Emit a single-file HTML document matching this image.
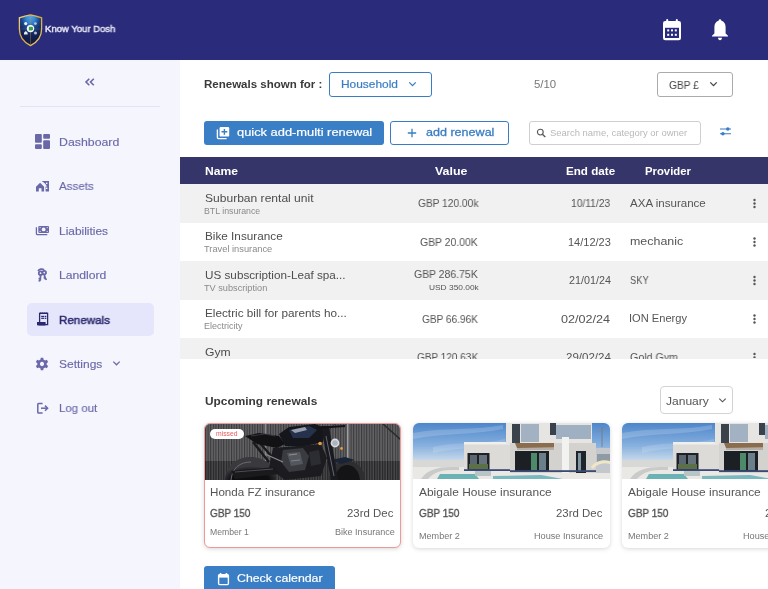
<!DOCTYPE html>
<html lang="en">
<head>
<meta charset="utf-8">
<title>Know Your Dosh - Renewals</title>
<style>
html,body{margin:0;padding:0;}
body{width:768px;height:589px;overflow:hidden;position:relative;background:#fff;font-family:"Liberation Sans",Arial,sans-serif;}
.t{position:absolute;white-space:nowrap;line-height:1;transform-origin:0 0;will-change:transform;}
.abs{position:absolute;}
#hdr{left:0;top:0;width:768px;height:60px;background:#2a2b7a;}
#side{left:0;top:60px;width:180px;height:529px;background:#f5f5fe;}
#sdiv{left:20px;top:106px;width:140px;height:1px;background:#e3e3f6;}
#active{left:26.5px;top:303px;width:127.5px;height:32.5px;background:#e5e5fb;border-radius:5px;}
.box{position:absolute;box-sizing:border-box;border-radius:3px;background:#fff;}
#thead{left:180px;top:157px;width:588px;height:27px;background:#36356a;}
.row{position:absolute;left:180px;width:588px;height:38.5px;}
.odd{background:#f1f1f1;}
.card{position:absolute;top:422.5px;width:197px;height:125.5px;box-sizing:border-box;border-radius:6px;background:#fff;overflow:hidden;box-shadow:0 1px 4px rgba(0,0,0,0.16);}
.btn{position:absolute;background:#3a7ec6;border-radius:3px;}
</style>
</head>
<body>
<div id="hdr" class="abs"></div>
<!-- logo shield -->
<svg class="abs" style="left:17px;top:13px" width="27" height="34" viewBox="0 0 27 34">
  <defs>
    <radialGradient id="shg" cx="0.5" cy="0.05" r="0.75" fx="0.5" fy="0.05">
      <stop offset="0" stop-color="#52a8ee"/>
      <stop offset="0.3" stop-color="#3482cc"/>
      <stop offset="0.55" stop-color="#1d4488"/>
      <stop offset="0.8" stop-color="#15255a"/>
      <stop offset="1" stop-color="#111c48"/>
    </radialGradient>
    <linearGradient id="gold" x1="0" y1="0" x2="1" y2="1">
      <stop offset="0" stop-color="#f3d57a"/>
      <stop offset="0.5" stop-color="#d7a93e"/>
      <stop offset="1" stop-color="#f0cf6e"/>
    </linearGradient>
  </defs>
  <path d="M13.5 1.9 L19 3.2 L24.6 4.8 L24.6 16 C24.6 24 19.8 29.5 13.5 32.6 C7.2 29.5 2.4 24 2.4 16 L2.4 4.8 L8 3.2 Z" fill="url(#shg)" stroke="url(#gold)" stroke-width="1.3"/>
  <line x1="13.5" y1="2.5" x2="13.5" y2="31.5" stroke="#b58a3a" stroke-width="0.5" opacity="0.8"/>
  <line x1="3" y1="16" x2="24" y2="16" stroke="#6b8fc0" stroke-width="0.4" opacity="0.6"/>
  <circle cx="8.7" cy="10.6" r="1.6" fill="#fff" opacity="0.9"/>
  <circle cx="18.4" cy="10.6" r="1.4" fill="#dfe6f3" opacity="0.75"/>
  <path d="M7 19.8 L8.8 18 L10.6 19.8 L10.6 21.4 L7 21.4 Z" fill="#fff" opacity="0.9"/>
  <circle cx="18.5" cy="20" r="1.5" fill="#dfe6f3" opacity="0.8"/>
  <circle cx="13.5" cy="15.6" r="3.7" fill="#fff"/>
  <path d="M11.8 13.8 L14.8 13.8 C16 13.8 16.3 15 16 16.2 L15 17.6 L11.8 17.6 Z" fill="#3aa34a"/>
</svg>
<!-- header icons -->
<svg class="abs" style="left:662px;top:18px" width="20" height="23" viewBox="0 0 20 23">
  <rect x="4.2" y="1" width="2" height="3.5" rx="1" fill="#fff"/>
  <rect x="13.8" y="1" width="2" height="3.5" rx="1" fill="#fff"/>
  <rect x="1" y="3" width="18" height="19.2" rx="2.2" fill="#fff"/>
  <rect x="3" y="9.8" width="14" height="10.2" fill="#2a2b7a"/>
  <g fill="#fff">
    <rect x="5.2" y="11.4" width="2" height="2"/><rect x="9" y="11.4" width="2" height="2"/><rect x="12.8" y="11.4" width="2" height="2"/>
    <rect x="5.2" y="15.8" width="2" height="2"/><rect x="9" y="15.8" width="2" height="2"/><rect x="12.8" y="15.8" width="2" height="2"/>
  </g>
</svg>
<svg class="abs" style="left:711px;top:18px" width="18" height="23" viewBox="0 0 18 23">
  <path d="M9 1.2 C9.8 1.2 10.2 1.8 10.2 2.6 C13.2 3.4 14.6 6 14.6 9 L14.6 15.5 L17 17.8 L17 18.6 L1 18.6 L1 17.8 L3.4 15.5 L3.4 9 C3.4 6 4.8 3.4 7.8 2.6 C7.8 1.8 8.2 1.2 9 1.2 Z" fill="#fff"/>
  <path d="M7 19.8 L11 19.8 C11 21.2 10.1 22.2 9 22.2 C7.9 22.2 7 21.2 7 19.8 Z" fill="#fff"/>
</svg>

<div id="side" class="abs"></div>
<!-- collapse chevrons -->
<svg class="abs" style="left:84px;top:77px" width="12" height="10" viewBox="0 0 12 10">
  <path d="M5.3 1.7 L2 5 L5.3 8.3 M9.8 1.7 L6.5 5 L9.8 8.3" fill="none" stroke="#6b68a8" stroke-width="1.6"/>
</svg>
<div id="sdiv" class="abs"></div>
<div id="active" class="abs"></div>
<!-- sidebar icons -->
<svg class="abs" style="left:35px;top:134px" width="15" height="15" viewBox="0 0 15 15" fill="#6b68a8">
  <rect x="0" y="0" width="6.8" height="8.8" rx="1"/>
  <rect x="0" y="10.2" width="6.8" height="4.8" rx="1"/>
  <rect x="8.2" y="0" width="6.8" height="4.8" rx="1"/>
  <rect x="8.2" y="6.2" width="6.8" height="8.8" rx="1"/>
</svg>
<svg class="abs" style="left:35px;top:180px" width="15" height="13" viewBox="0 0 15 13" fill="#6b68a8">
  <path d="M6.7 1 L14 1 L14 11.4 L10.6 11.4 L10.6 6.6 L12.1 6.6 L10 3.6 Z"/>
  <rect x="11" y="2.6" width="1.4" height="1.4" fill="#f5f5fe"/><rect x="11" y="7.6" width="1.4" height="1.4" fill="#f5f5fe"/>
  <path d="M1 6.8 L5.1 2.8 L9.1 6.8 L9.1 11.6 L6.5 11.6 L6.5 8.2 L3.8 8.2 L3.8 11.6 L1 11.6 Z"/>
</svg>
<svg class="abs" style="left:35px;top:224px" width="15" height="13" viewBox="0 0 15 13">
  <rect x="3.3" y="2" width="10.7" height="6.9" rx="1" fill="#6b68a8"/>
  <circle cx="8.65" cy="5.45" r="1.9" fill="#f5f5fe"/>
  <circle cx="5.1" cy="3.6" r="0.6" fill="#f5f5fe"/><circle cx="12.2" cy="3.6" r="0.6" fill="#f5f5fe"/>
  <circle cx="5.1" cy="7.3" r="0.6" fill="#f5f5fe"/><circle cx="12.2" cy="7.3" r="0.6" fill="#f5f5fe"/>
  <path d="M1.4 3.3 L1.4 9.8 Q1.4 10.6 2.2 10.6 L12.3 10.6" fill="none" stroke="#6b68a8" stroke-width="1.3"/>
</svg>
<svg class="abs" style="left:36px;top:267px" width="12" height="16" viewBox="0 0 12 16" fill="none" stroke="#6b68a8" stroke-width="1.8">
  <path d="M2.2 4.2 C2.6 2 6.5 1.4 8 3"/>
  <circle cx="4.6" cy="6.2" r="1.8"/>
  <path d="M4.6 8 L4.2 13.8 M4.3 11.4 L2.6 11.8 M4.2 13.6 L2.6 13.9"/>
  <circle cx="8.2" cy="5.6" r="1.8"/>
  <path d="M8.2 7.4 L9.6 12.6 M9 10.6 L7.6 11 M9.5 12.4 L10.8 12"/>
</svg>
<svg class="abs" style="left:36px;top:312px" width="13" height="14" viewBox="0 0 13 14">
  <path d="M3.6 1.3 L11.6 1.3 L11.6 12.6 L3.6 12.6 Z" fill="none" stroke="#2a2870" stroke-width="1.3"/>
  <path d="M3.6 1 L4.6 0.6 L5.6 1 L6.6 0.6 L7.6 1 L8.6 0.6 L9.6 1 L10.6 0.6 L11.6 1" fill="none" stroke="#2a2870" stroke-width="0.8"/>
  <rect x="5.2" y="3.8" width="3.2" height="1.2" fill="#2a2870"/><rect x="9" y="3.8" width="1.3" height="1.2" fill="#2a2870"/>
  <rect x="5.2" y="5.7" width="3.2" height="1.2" fill="#2a2870"/><rect x="9" y="5.7" width="1.3" height="1.2" fill="#2a2870"/>
  <path d="M1 10 L9.6 10 L9.6 12.8 Q9.6 13.4 9 13.4 L2 13.4 Q1 13.4 1 12.4 Z" fill="#2a2870"/>
</svg>
<svg class="abs" style="left:34.4px;top:355.7px" width="16" height="16" viewBox="0 0 24 24" fill="#6b68a8">
  <path fill-rule="evenodd" d="M13.9 1.5 L14.4 4.3 C15.2 4.6 15.9 5 16.6 5.5 L19.3 4.5 L21.2 7.8 L19 9.6 C19.1 10.4 19.1 11.2 19 12 L21.2 13.8 L19.3 17.1 L16.6 16.1 C15.9 16.6 15.2 17 14.4 17.3 L13.9 20.1 L10.1 20.1 L9.6 17.3 C8.8 17 8.1 16.6 7.4 16.1 L4.7 17.1 L2.8 13.8 L5 12 C4.9 11.2 4.9 10.4 5 9.6 L2.8 7.8 L4.7 4.5 L7.4 5.5 C8.1 5 8.8 4.6 9.6 4.3 L10.1 1.5 Z M12 7.6 A3.2 3.2 0 1 0 12.001 7.6 Z" transform="translate(0,1.2)"/>
</svg>
<svg class="abs" style="left:36px;top:402px" width="14" height="13" viewBox="0 0 14 13" fill="none" stroke="#6b68a8" stroke-width="1.5">
  <path d="M6.6 1.5 L2.6 1.5 Q1.8 1.5 1.8 2.3 L1.8 10.2 Q1.8 11 2.6 11 L6.6 11"/>
  <path d="M5 6.2 L11 6.2"/>
  <path d="M9 3.6 L11.6 6.2 L9 8.8" stroke-linejoin="miter"/>
</svg>
<!-- sidebar settings chevron -->
<svg class="abs" style="left:112px;top:360px" width="9" height="7" viewBox="0 0 9 7">
  <path d="M1.3 1.6 L4.5 4.8 L7.7 1.6" fill="none" stroke="#6b68a8" stroke-width="1.3"/>
</svg>

<!-- top controls -->
<div class="box" style="left:328.5px;top:72px;width:103px;height:24.5px;border:1.2px solid #3a7dc4;"></div>
<svg class="abs" style="left:408px;top:81px" width="9" height="7" viewBox="0 0 9 7">
  <path d="M1.3 1.4 L4.5 4.6 L7.7 1.4" fill="none" stroke="#3a7dc4" stroke-width="1.3"/>
</svg>
<div class="box" style="left:656.5px;top:72px;width:76px;height:24.6px;border:1.1px solid #ababab;"></div>
<svg class="abs" style="left:709px;top:81px" width="9" height="7" viewBox="0 0 9 7">
  <path d="M1.3 1.4 L4.5 4.6 L7.7 1.4" fill="none" stroke="#444" stroke-width="1.3"/>
</svg>
<div class="btn" style="left:204px;top:120.8px;width:180px;height:23.8px;"></div>
<svg class="abs" style="left:216px;top:126px" width="14" height="14" viewBox="0 0 14 14">
  <path d="M1.4 3.4 L1.4 11.6 Q1.4 12.6 2.4 12.6 L10.6 12.6" fill="none" stroke="#fff" stroke-width="1.4"/>
  <rect x="3.6" y="1" width="9.6" height="9.6" rx="1.2" fill="#fff"/>
  <path d="M8.4 2.9 L8.4 8.7 M5.5 5.8 L11.3 5.8" stroke="#3a7ec6" stroke-width="1.4"/>
</svg>
<div class="box" style="left:390px;top:120.8px;width:119px;height:24px;border:1.2px solid #3a7dc4;"></div>
<svg class="abs" style="left:407px;top:128px" width="10" height="10" viewBox="0 0 10 10">
  <path d="M5 0.8 L5 9.2 M0.8 5 L9.2 5" stroke="#3a7dc4" stroke-width="1.3"/>
</svg>
<div class="box" style="left:529px;top:121px;width:171.5px;height:23.5px;border:1px solid #cfcfcf;"></div>
<svg class="abs" style="left:535.5px;top:128px" width="10.5" height="10" viewBox="0 0 10.5 10">
  <circle cx="4.3" cy="4.1" r="2.9" fill="none" stroke="#5a5a5a" stroke-width="1.15"/>
  <path d="M6.4 6.2 L9.3 9.1" stroke="#5a5a5a" stroke-width="1.4"/>
</svg>
<svg class="abs" style="left:719px;top:126px" width="13" height="10" viewBox="0 0 13 10">
  <path d="M1 3 L12 3 M1 7.7 L12 7.7" stroke="#3a7dc4" stroke-width="1.05"/>
  <circle cx="8.8" cy="3" r="1.75" fill="#3a7dc4"/><circle cx="3.9" cy="7.7" r="1.75" fill="#3a7dc4"/>
</svg>

<!-- table -->
<div id="thead" class="abs"></div>
<div style="position:absolute;left:180px;top:184px;width:588px;height:174.5px;overflow:hidden;">
  <div class="row odd" style="left:0;top:0"></div>
  <div class="row" style="left:0;top:38.5px"></div>
  <div class="row odd" style="left:0;top:77px"></div>
  <div class="row" style="left:0;top:115.5px"></div>
  <div class="row odd" style="left:0;top:154px"></div>
</div>
<!-- kebabs -->
<svg class="abs" style="left:752px;top:196px" width="5" height="162" viewBox="0 0 5 162" fill="#555">
  <circle cx="2.5" cy="4" r="1.2"/><circle cx="2.5" cy="7.5" r="1.2"/><circle cx="2.5" cy="11" r="1.2"/>
  <circle cx="2.5" cy="42.5" r="1.2"/><circle cx="2.5" cy="46" r="1.2"/><circle cx="2.5" cy="49.5" r="1.2"/>
  <circle cx="2.5" cy="81" r="1.2"/><circle cx="2.5" cy="84.5" r="1.2"/><circle cx="2.5" cy="88" r="1.2"/>
  <circle cx="2.5" cy="119.5" r="1.2"/><circle cx="2.5" cy="123" r="1.2"/><circle cx="2.5" cy="126.5" r="1.2"/>
  <circle cx="2.5" cy="158" r="1.2"/><circle cx="2.5" cy="161.5" r="1.2"/>
</svg>
<!-- clipped row text container: handled by clip wrapper below -->

<!-- upcoming -->
<div class="box" style="left:660px;top:386px;width:73px;height:27.5px;border:1px solid #d3d3d3;border-radius:4px;"></div>
<svg class="abs" style="left:717.5px;top:396.5px" width="9" height="7" viewBox="0 0 9 7">
  <path d="M1.3 1.6 L4.5 4.8 L7.7 1.6" fill="none" stroke="#555" stroke-width="1.15"/>
</svg>

<!-- cards -->
<div class="card" style="left:204px;border:1px solid #f09898;">
  <svg class="abs" style="left:0;top:0" width="196" height="56" viewBox="0 0 196 56">
    <defs>
      <pattern id="stripes" width="2.6" height="10" patternUnits="userSpaceOnUse">
        <rect width="2.6" height="10" fill="#646466"/><rect width="1.1" height="10" fill="#3a3a3c"/>
      </pattern>
      <pattern id="stripes2" width="2.6" height="10" patternUnits="userSpaceOnUse">
        <rect width="2.6" height="10" fill="#4c4c4e"/><rect width="1.3" height="10" fill="#252527"/>
      </pattern>
      <radialGradient id="tire" cx="0.5" cy="1" r="0.6">
        <stop offset="0.6" stop-color="#0e0e10"/><stop offset="0.85" stop-color="#2a2a2e"/><stop offset="1" stop-color="#3a3a3e"/>
      </radialGradient>
    </defs>
    <rect width="196" height="56" fill="url(#stripes)"/>
    <rect y="37" width="196" height="19" fill="url(#stripes2)"/>
    <rect x="142" y="0" width="1.6" height="37" fill="#a0a0a0"/>
    <rect x="60" y="0" width="1.2" height="37" fill="#8a8a8a"/>
    <path d="M178 0 L196 16" stroke="#2a2a2a" stroke-width="1.5"/>
    <path d="M130 0 L100 30" stroke="#333" stroke-width="0.8"/>
    <!-- rear wheel -->
    <path d="M20 56 C21 41 32 33 46 33 C60 33 70 42 71 56 Z" fill="url(#tire)"/>
    <path d="M26 56 C27 44 35 38 46 38" stroke="#6a6a70" stroke-width="1" fill="none"/>
    <!-- rear frame / shock -->
    <path d="M48 18 L64 38 M54 18 L68 34" stroke="#1a1a1c" stroke-width="2.4"/>
    <!-- seat -->
    <path d="M40 12 L54 9 L74 12 L80 20 L72 24 L52 20 Z" fill="#121214"/>
    <path d="M46 12 L60 10 L70 12" stroke="#3e4048" stroke-width="0.8" fill="none"/>
    <!-- tank -->
    <path d="M74 10 L84 3 L110 0 L120 4 L118 18 L100 22 L80 22 Z" fill="#14161c"/>
    <path d="M84 6 L104 2 L112 6 L104 14 L88 14 Z" fill="#26324c"/>
    <path d="M86 6 L100 3 L102 6 L90 9 Z" fill="#9aa0ae"/>
    <!-- engine -->
    <path d="M68 24 L116 20 L122 34 L116 52 L80 56 L64 44 Z" fill="#1c1c20"/>
    <path d="M78 26 L98 24 L104 32 L100 46 L84 48 L76 38 Z" fill="#3a3b40"/>
    <path d="M82 29 L95 28 L98 40 L86 42 Z" fill="#55575e"/><path d="M84 31 L92 30" stroke="#9a9ca4" stroke-width="0.8"/><path d="M86 37 L95 36" stroke="#8a8c94" stroke-width="0.8"/>
    <path d="M104 28 L114 26 L116 40 L106 42 Z" fill="#2c2d32"/>
    <path d="M60 30 L78 38" stroke="#8a8a90" stroke-width="1.1"/>
    <!-- exhaust -->
    <path d="M26 47 L70 43 L74 50 L30 55 Z" fill="#1a1a1d"/>
    <path d="M30 48 L68 45" stroke="#5a5a60" stroke-width="0.8"/>
    <!-- front wheel -->
    <path d="M124 56 C124 44 132 37 142 37 C153 37 160 46 160 56 Z" fill="#2e2e31"/>
    <path d="M130 56 C131 46 136 41 142 41 C149 41 154 47 155 56 Z" fill="#141416"/>
    <path d="M126 36 L140 33 L150 36 L136 40 Z" fill="#1a2436"/>
    <!-- fork -->
    <path d="M116 2 L124 2 L133 56 L126 56 Z" fill="#1a1a1e"/>
    <path d="M121 12 L129 52" stroke="#6a6e80" stroke-width="0.9"/>
    <path d="M112 4 L140 2" stroke="#141416" stroke-width="2"/>
    <circle cx="130" cy="19" r="4.4" fill="#d9dbe0"/>
    <circle cx="130" cy="19" r="2.8" fill="#aeb3bd"/>
    <circle cx="115" cy="19.5" r="1.7" fill="#e99c30"/>
    <circle cx="136.5" cy="24.5" r="1.4" fill="#e99c30"/>
  </svg>
  <div class="abs" style="left:5px;top:5.5px;width:34px;height:10.3px;background:#fff;border-radius:6px;"></div>
</div>
<div class="card" style="left:413px;">
  <svg class="abs" style="left:0;top:0" width="197" height="56" viewBox="0 0 197 56">
    <defs>
      <linearGradient id="sky" x1="0" y1="0" x2="0" y2="1">
        <stop offset="0" stop-color="#4e86cb"/>
        <stop offset="0.4" stop-color="#86b0de"/>
        <stop offset="0.65" stop-color="#c2d6ea"/>
        <stop offset="1" stop-color="#e8ecef"/>
      </linearGradient>
    </defs>
    <rect width="197" height="56" fill="url(#sky)"/>
    <path d="M0 10 C30 4 60 8 90 2 L90 6 C60 12 30 10 0 16 Z" fill="#ffffff" opacity="0.18"/>
    <path d="M20 24 C45 18 70 22 92 16 L92 20 C70 26 45 24 20 30 Z" fill="#ffffff" opacity="0.15"/>
    <!-- distant -->
    <rect x="0" y="37" width="55" height="8" fill="#d8d8d6"/>
    <rect x="0" y="44" width="197" height="12" fill="#e9e8e4"/>
    <!-- pool -->
    <path d="M24 56 L27 51 L62 51 L66 56 Z" fill="#6ab3b4"/>
    <path d="M80 53 L128 52 L150 56 L80 56 Z" fill="#7ab8c0"/>
    <path d="M8 56 C14 47 24 44 38 44 L46 44 L46 47 L38 47 C28 47 20 50 15 56 Z" fill="#c9cbcb"/>
    <rect x="62" y="43" width="16" height="10" fill="#b9c4c4"/>
    <!-- lower building -->
    <rect x="51" y="20" width="50" height="28" fill="#dcdbd8"/>
    <rect x="51" y="19" width="50" height="2.5" fill="#efefed"/>
    <rect x="54.5" y="30" width="22" height="17.5" fill="#1e2126"/>
    <rect x="57" y="32" width="7" height="9" fill="#5a6670"/>
    <rect x="66" y="32" width="8" height="9" fill="#66727c"/>
    <rect x="56" y="41" width="19" height="5" fill="#5c7048"/>
    <rect x="51" y="46.2" width="50" height="1.8" fill="#3a4a74"/>
    <!-- upper building -->
    <rect x="93" y="0" width="86" height="22" fill="#e6e5e2"/>
    <rect x="108" y="1" width="18" height="18" fill="#a3b2c2"/>
    <rect x="99" y="1" width="8" height="20" fill="#3a424c"/>
    <rect x="143" y="2" width="35" height="14" fill="#9fb0c2"/>
    <rect x="137" y="0" width="6" height="12" fill="#3a424c"/>
    <!-- lower right building -->
    <rect x="97" y="20" width="86" height="30" fill="#d3d2cf"/>
    <path d="M102 20 L141 20 L141 24.5 L104 25 Z" fill="#8a6c4e"/><rect x="104" y="25" width="37" height="2" fill="#b5aea6"/>
    <rect x="102" y="28" width="34" height="20" fill="#1c2025"/>
    <rect x="118" y="30" width="6" height="17" fill="#4d8a6a"/>
    <rect x="126" y="30" width="7" height="17" fill="#6b7f8a"/>
    <rect x="149" y="14" width="7" height="36" fill="#f2f2f0"/>
    <rect x="163" y="28" width="10" height="22" fill="#1f242a"/>
    <rect x="165" y="30" width="3" height="18" fill="#7e98a8"/>
    <rect x="97" y="47.2" width="86" height="1.8" fill="#3a4a74"/>
    <!-- right side -->
    <rect x="183" y="25" width="14" height="25" fill="#c4c8cc"/>
    <rect x="184" y="31" width="13" height="8" fill="#8e9aa4"/>
    <path d="M189 4 L189 24" stroke="#777" stroke-width="0.8"/>
    <path d="M184 9 L194 6" stroke="#888" stroke-width="0.6"/>
    <path d="M178 44 C182 38 190 36 197 38 L197 41 C190 39 184 41 180 46 Z" fill="#efe6c8"/>
    <rect x="0" y="48" width="197" height="8" fill="#e7e6e2" opacity="0.0"/>
  </svg>
</div>
<div class="card" style="left:622px;">
  <svg class="abs" style="left:0;top:0" width="197" height="56" viewBox="0 0 197 56">
    <rect width="197" height="56" fill="url(#sky)"/>
    <path d="M0 10 C30 4 60 8 90 2 L90 6 C60 12 30 10 0 16 Z" fill="#ffffff" opacity="0.18"/>
    <path d="M20 24 C45 18 70 22 92 16 L92 20 C70 26 45 24 20 30 Z" fill="#ffffff" opacity="0.15"/>
    <!-- distant -->
    <rect x="0" y="37" width="55" height="8" fill="#d8d8d6"/>
    <rect x="0" y="44" width="197" height="12" fill="#e9e8e4"/>
    <!-- pool -->
    <path d="M24 56 L27 51 L62 51 L66 56 Z" fill="#6ab3b4"/>
    <path d="M80 53 L128 52 L150 56 L80 56 Z" fill="#7ab8c0"/>
    <path d="M8 56 C14 47 24 44 38 44 L46 44 L46 47 L38 47 C28 47 20 50 15 56 Z" fill="#c9cbcb"/>
    <rect x="62" y="43" width="16" height="10" fill="#b9c4c4"/>
    <!-- lower building -->
    <rect x="51" y="20" width="50" height="28" fill="#dcdbd8"/>
    <rect x="51" y="19" width="50" height="2.5" fill="#efefed"/>
    <rect x="54.5" y="30" width="22" height="17.5" fill="#1e2126"/>
    <rect x="57" y="32" width="7" height="9" fill="#5a6670"/>
    <rect x="66" y="32" width="8" height="9" fill="#66727c"/>
    <rect x="56" y="41" width="19" height="5" fill="#5c7048"/>
    <rect x="51" y="46.2" width="50" height="1.8" fill="#3a4a74"/>
    <!-- upper building -->
    <rect x="93" y="0" width="86" height="22" fill="#e6e5e2"/>
    <rect x="108" y="1" width="18" height="18" fill="#a3b2c2"/>
    <rect x="99" y="1" width="8" height="20" fill="#3a424c"/>
    <rect x="143" y="2" width="35" height="14" fill="#9fb0c2"/>
    <rect x="137" y="0" width="6" height="12" fill="#3a424c"/>
    <!-- lower right building -->
    <rect x="97" y="20" width="86" height="30" fill="#d3d2cf"/>
    <path d="M102 20 L141 20 L141 24.5 L104 25 Z" fill="#8a6c4e"/><rect x="104" y="25" width="37" height="2" fill="#b5aea6"/>
    <rect x="102" y="28" width="34" height="20" fill="#1c2025"/>
    <rect x="118" y="30" width="6" height="17" fill="#4d8a6a"/>
    <rect x="126" y="30" width="7" height="17" fill="#6b7f8a"/>
    <rect x="149" y="14" width="7" height="36" fill="#f2f2f0"/>
    <rect x="163" y="28" width="10" height="22" fill="#1f242a"/>
    <rect x="165" y="30" width="3" height="18" fill="#7e98a8"/>
    <rect x="97" y="47.2" width="86" height="1.8" fill="#3a4a74"/>
    <!-- right side -->
    <rect x="183" y="25" width="14" height="25" fill="#c4c8cc"/>
    <rect x="184" y="31" width="13" height="8" fill="#8e9aa4"/>
    <path d="M189 4 L189 24" stroke="#777" stroke-width="0.8"/>
    <path d="M184 9 L194 6" stroke="#888" stroke-width="0.6"/>
    <path d="M178 44 C182 38 190 36 197 38 L197 41 C190 39 184 41 180 46 Z" fill="#efe6c8"/>
    <rect x="0" y="48" width="197" height="8" fill="#e7e6e2" opacity="0.0"/>
  </svg>
</div>

<!-- check calendar -->
<div class="btn" style="left:204px;top:566px;width:130.6px;height:30px;"></div>
<svg class="abs" style="left:217px;top:571.5px" width="13" height="14" viewBox="0 0 13 14">
  <rect x="2.8" y="1" width="1.6" height="2.4" fill="#fff"/><rect x="8.6" y="1" width="1.6" height="2.4" fill="#fff"/>
  <rect x="1.6" y="2.6" width="9.8" height="10" rx="1" fill="none" stroke="#fff" stroke-width="1.4"/>
  <rect x="1.6" y="2.6" width="9.8" height="3" fill="#fff"/>
</svg>

<div class="t" id="t0" style="left:45.00px;top:23.87px;font-size:9.6px;font-weight:400;color:#e6e6f4;transform:scaleX(0.992);-webkit-text-stroke:0.45px #e6e6f4;">Know Your Dosh</div>
<div class="t" id="t1" style="left:59.40px;top:136.91px;font-size:11.8px;font-weight:400;color:#6b68a8;transform:scaleX(1.045);-webkit-text-stroke:0.15px #6b68a8;">Dashboard</div>
<div class="t" id="t2" style="left:59.40px;top:181.11px;font-size:11.8px;font-weight:400;color:#6b68a8;transform:scaleX(0.980);-webkit-text-stroke:0.15px #6b68a8;">Assets</div>
<div class="t" id="t3" style="left:59.40px;top:225.51px;font-size:11.8px;font-weight:400;color:#6b68a8;transform:scaleX(1.010);-webkit-text-stroke:0.15px #6b68a8;">Liabilities</div>
<div class="t" id="t4" style="left:59.40px;top:269.91px;font-size:11.8px;font-weight:400;color:#6b68a8;transform:scaleX(1.032);-webkit-text-stroke:0.15px #6b68a8;">Landlord</div>
<div class="t" id="t5" style="left:59.40px;top:358.81px;font-size:11.8px;font-weight:400;color:#6b68a8;transform:scaleX(1.016);-webkit-text-stroke:0.15px #6b68a8;">Settings</div>
<div class="t" id="t6" style="left:59.40px;top:402.91px;font-size:11.8px;font-weight:400;color:#6b68a8;transform:scaleX(0.973);-webkit-text-stroke:0.15px #6b68a8;">Log out</div>
<div class="t" id="t7" style="left:59.20px;top:314.51px;font-size:11.8px;font-weight:400;color:#2e2c70;transform:scaleX(0.983);-webkit-text-stroke:0.5px #2e2c70;">Renewals</div>
<div class="t" id="t8" style="left:204.30px;top:79.49px;font-size:11px;font-weight:700;color:#3a3a3a;transform:scaleX(1.047);">Renewals shown for :</div>
<div class="t" id="t9" style="left:341.40px;top:79.32px;font-size:11.2px;font-weight:400;color:#3a7dc4;transform:scaleX(1.064);-webkit-text-stroke:0.2px #3a7dc4;">Household</div>
<div class="t" id="t10" style="left:533.50px;top:79.35px;font-size:11.4px;font-weight:400;color:#777;transform:scaleX(0.985);">5/10</div>
<div class="t" id="t11" style="left:668.75px;top:79.83px;font-size:10.6px;font-weight:400;color:#444;transform:scaleX(0.966);">GBP £</div>
<div class="t" id="t12" style="left:236.80px;top:125.98px;font-size:11.6px;font-weight:400;color:#fff;transform:scaleX(1.110);-webkit-text-stroke:0.2px #fff;">quick add-multi renewal</div>
<div class="t" id="t13" style="left:425.60px;top:126.18px;font-size:11.6px;font-weight:400;color:#3a7dc4;transform:scaleX(1.083);-webkit-text-stroke:0.3px #3a7dc4;">add renewal</div>
<div class="t" id="t14" style="left:550.40px;top:129.04px;font-size:8.7px;font-weight:400;color:#b9b9b9;transform:scaleX(1.088);">Search name, category or owner</div>
<div class="t" id="t15" style="left:204.60px;top:165.79px;font-size:11px;font-weight:700;color:#fff;transform:scaleX(1.102);">Name</div>
<div class="t" id="t16" style="left:435.40px;top:165.79px;font-size:11px;font-weight:700;color:#fff;transform:scaleX(1.128);">Value</div>
<div class="t" id="t17" style="left:565.60px;top:165.79px;font-size:11px;font-weight:700;color:#fff;transform:scaleX(1.058);">End date</div>
<div class="t" id="t18" style="left:645.40px;top:165.79px;font-size:11px;font-weight:700;color:#fff;transform:scaleX(1.028);">Provider</div>
<div class="t" id="t19" style="left:204.50px;top:192.77px;font-size:11.5px;font-weight:400;color:#4d4d4d;transform:scaleX(1.048);">Suburban rental unit</div>
<div class="t" id="t20" style="left:204.30px;top:206.52px;font-size:8.6px;font-weight:400;color:#8a8a8a;transform:scaleX(1.021);">BTL insurance</div>
<div class="t" id="t21" style="left:417.80px;top:198.16px;font-size:10.8px;font-weight:400;color:#555;transform:scaleX(0.944);">GBP 120.00k</div>
<div class="t" id="t22" style="left:571.25px;top:198.03px;font-size:10.6px;font-weight:400;color:#555;transform:scaleX(0.968);">10/11/23</div>
<div class="t" id="t23" style="left:629.60px;top:197.86px;font-size:10.8px;font-weight:400;color:#555;transform:scaleX(1.070);">AXA insurance</div>
<div class="t" id="t24" style="left:204.50px;top:231.27px;font-size:11.5px;font-weight:400;color:#4d4d4d;transform:scaleX(1.021);">Bike Insurance</div>
<div class="t" id="t25" style="left:204.30px;top:245.02px;font-size:8.6px;font-weight:400;color:#8a8a8a;transform:scaleX(1.080);">Travel insurance</div>
<div class="t" id="t26" style="left:420.20px;top:236.66px;font-size:10.8px;font-weight:400;color:#555;transform:scaleX(0.967);">GBP 20.00K</div>
<div class="t" id="t27" style="left:567.60px;top:236.53px;font-size:10.6px;font-weight:400;color:#555;transform:scaleX(1.038);">14/12/23</div>
<div class="t" id="t28" style="left:629.60px;top:236.36px;font-size:10.8px;font-weight:400;color:#555;transform:scaleX(1.151);">mechanic</div>
<div class="t" id="t29" style="left:204.50px;top:269.77px;font-size:11.5px;font-weight:400;color:#4d4d4d;transform:scaleX(1.018);">US subscription-Leaf spa...</div>
<div class="t" id="t30" style="left:204.30px;top:283.52px;font-size:8.6px;font-weight:400;color:#8a8a8a;transform:scaleX(1.068);">TV subscription</div>
<div class="t" id="t31" style="left:414.30px;top:269.26px;font-size:10.8px;font-weight:400;color:#555;transform:scaleX(0.968);">GBP 286.75K</div>
<div class="t" id="t32" style="left:428.90px;top:283.93px;font-size:8.0px;font-weight:400;color:#555;transform:scaleX(1.046);">USD 350.00k</div>
<div class="t" id="t33" style="left:568.50px;top:275.03px;font-size:10.6px;font-weight:400;color:#555;transform:scaleX(1.016);">21/01/24</div>
<div class="t" id="t34" style="left:629.60px;top:274.86px;font-size:10.8px;font-weight:400;color:#555;transform:scaleX(0.864);">SKY</div>
<div class="t" id="t35" style="left:204.50px;top:308.27px;font-size:11.5px;font-weight:400;color:#4d4d4d;transform:scaleX(1.022);">Electric bill for parents ho...</div>
<div class="t" id="t36" style="left:204.30px;top:322.02px;font-size:8.6px;font-weight:400;color:#8a8a8a;transform:scaleX(1.049);">Electricity</div>
<div class="t" id="t37" style="left:422.00px;top:313.66px;font-size:10.8px;font-weight:400;color:#555;transform:scaleX(0.937);">GBP 66.96K</div>
<div class="t" id="t38" style="left:561.40px;top:313.53px;font-size:10.6px;font-weight:400;color:#555;transform:scaleX(1.188);">02/02/24</div>
<div class="t" id="t39" style="left:628.57px;top:313.36px;font-size:10.8px;font-weight:400;color:#555;transform:scaleX(1.028);">ION Energy</div>
<div class="t" id="t40" style="left:204.50px;top:346.77px;font-size:11.5px;font-weight:400;color:#4d4d4d;transform:scaleX(1.055);">Gym</div>
<div class="t" id="t41" style="left:416.90px;top:352.16px;font-size:10.8px;font-weight:400;color:#555;transform:scaleX(0.929);">GBP 120.63K</div>
<div class="t" id="t42" style="left:565.50px;top:352.03px;font-size:10.6px;font-weight:400;color:#555;transform:scaleX(1.088);">29/02/24</div>
<div class="t" id="t43" style="left:629.60px;top:351.86px;font-size:10.8px;font-weight:400;color:#555;transform:scaleX(0.988);">Gold Gym</div>
<div class="t" id="t44" style="left:205.00px;top:395.72px;font-size:11.2px;font-weight:700;color:#3a3a3a;transform:scaleX(1.062);">Upcoming renewals</div>
<div class="t" id="t45" style="left:666.40px;top:395.89px;font-size:11px;font-weight:400;color:#555;transform:scaleX(1.095);">January</div>
<div class="t" id="t46" style="left:209.60px;top:486.93px;font-size:10.6px;font-weight:400;color:#555;transform:scaleX(1.097);">Honda FZ insurance</div>
<div class="t" id="t47" style="left:209.80px;top:507.66px;font-size:10.8px;font-weight:400;color:#505050;transform:scaleX(0.927);-webkit-text-stroke:0.35px #505050;">GBP 150</div>
<div class="t" id="t48" style="left:347.00px;top:507.66px;font-size:10.8px;font-weight:400;color:#555;transform:scaleX(1.058);">23rd Dec</div>
<div class="t" id="t49" style="left:209.80px;top:528.19px;font-size:8.4px;font-weight:400;color:#777;transform:scaleX(1.030);">Member 1</div>
<div class="t" id="t50" style="left:334.50px;top:528.19px;font-size:8.4px;font-weight:400;color:#777;transform:scaleX(1.080);">Bike Insurance</div>
<div class="t" id="t51" style="left:419.20px;top:486.93px;font-size:10.6px;font-weight:400;color:#555;transform:scaleX(1.127);">Abigale House insurance</div>
<div class="t" id="t52" style="left:419.40px;top:507.66px;font-size:10.8px;font-weight:400;color:#505050;transform:scaleX(0.927);-webkit-text-stroke:0.35px #505050;">GBP 150</div>
<div class="t" id="t53" style="left:556.00px;top:507.66px;font-size:10.8px;font-weight:400;color:#555;transform:scaleX(1.058);">23rd Dec</div>
<div class="t" id="t54" style="left:419.40px;top:532.49px;font-size:8.4px;font-weight:400;color:#777;transform:scaleX(1.083);">Member 2</div>
<div class="t" id="t55" style="left:534.10px;top:532.49px;font-size:8.4px;font-weight:400;color:#777;transform:scaleX(1.093);">House Insurance</div>
<div class="t" id="t56" style="left:628.20px;top:486.93px;font-size:10.6px;font-weight:400;color:#555;transform:scaleX(1.127);">Abigale House insurance</div>
<div class="t" id="t57" style="left:628.40px;top:507.66px;font-size:10.8px;font-weight:400;color:#505050;transform:scaleX(0.927);-webkit-text-stroke:0.35px #505050;">GBP 150</div>
<div class="t" id="t58" style="left:765.00px;top:507.66px;font-size:10.8px;font-weight:400;color:#555;transform:scaleX(1.058);">23rd Dec</div>
<div class="t" id="t59" style="left:628.40px;top:532.49px;font-size:8.4px;font-weight:400;color:#777;transform:scaleX(1.083);">Member 2</div>
<div class="t" id="t60" style="left:743.10px;top:532.49px;font-size:8.4px;font-weight:400;color:#777;transform:scaleX(1.093);">House Insurance</div>
<div class="t" id="t61" style="left:215.80px;top:430.88px;font-size:6.4px;font-weight:400;color:#e25c5c;transform:scaleX(1.063);">missed</div>
<div class="t" id="t62" style="left:236.60px;top:572.48px;font-size:11.6px;font-weight:400;color:#fff;transform:scaleX(1.062);-webkit-text-stroke:0.2px #fff;">Check calendar</div>
<div class="abs" style="left:180px;top:358.5px;width:588px;height:24px;background:#fff;"></div>
</body>
</html>
